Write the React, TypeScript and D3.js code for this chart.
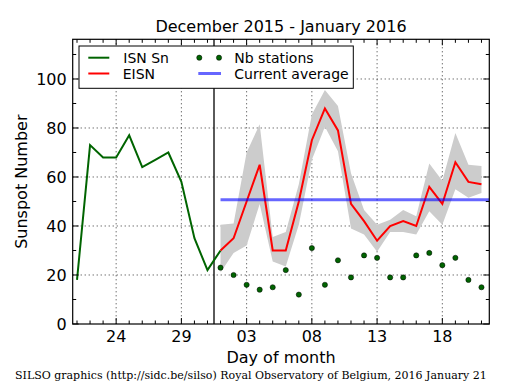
import React from 'react';
import * as d3 from 'd3';

const width = 515;
const height = 390;
const plot = { left: 72.7, right: 489.3, top: 39.3, bottom: 324 };

// day offsets relative to 2016-01-01
const isnDays = [-11, -10, -9, -8, -7, -6, -5, -4, -3, -2, -1, 0];
const isnValues = [18, 73, 68, 68, 77, 64, 67, 70, 58, 35, 22, 30];

const eisnDays = [0, 1, 2, 3, 4, 5, 6, 7, 8, 9, 10, 11, 12, 13, 14, 15, 16, 17, 18, 19, 20];
const eisnValues = [30, 35, 50, 65, 30, 30, 50, 75, 88, 79, 49, 42, 34, 40, 42, 40, 56, 49, 66, 58, 57];
const eisnUpper = [40.5, 41, 70, 81.5, 35.5, 37.5, 57, 85.5, 95.5, 89, 61.5, 46.5, 40.5, 42.5, 46.5, 44, 65.5, 58.5, 78, 65, 64.5];
const eisnLower = [21, 29, 32, 49, 25.5, 23.5, 40.5, 67, 80.5, 70.5, 39, 36.5, 29.5, 37.5, 37.5, 36.5, 46, 40.5, 55, 51.5, 53.5];
const stations = [23, 20, 16, 14, 15, 22, 12, 31, 16, 26, 19, 28, 27, 19, 19, 28, 29, 24, 27, 18, 15];
const currentAverage = 50.7;

const xTickDays = [-8, -3, 2, 7, 12, 17];
const xTickLabels = ['24', '29', '03', '08', '13', '18'];
const xMinorDays = [-11, -10, -9, -8, -7, -6, -5, -4, -3, -2, -1, 0, 1, 2, 3, 4, 5, 6, 7, 8, 9, 10, 11, 12, 13, 14, 15, 16, 17, 18, 19, 20];
const yTicks = [0, 20, 40, 60, 80, 100];
const yMinor = [10, 30, 50, 70, 90, 110];

const font = 'DejaVu Sans, sans-serif';

const App = () => {
  const x = d3.scaleLinear().domain([-11.33, 20.6]).range([plot.left, plot.right]);
  const y = d3.scaleLinear().domain([0, 116.2]).range([plot.bottom, plot.top]);

  const isnData = isnDays.map((d, i) => ({ d, v: isnValues[i] }));
  const eisnData = eisnDays.map((d, i) => ({ d, v: eisnValues[i], hi: eisnUpper[i], lo: eisnLower[i], n: stations[i] }));

  const line = d3.line<{ d: number; v: number }>().x(p => x(p.d)).y(p => y(p.v));
  const band = d3.area<{ d: number; hi: number; lo: number }>()
    .x(p => x(p.d))
    .y0(p => y(p.lo))
    .y1(p => y(p.hi));

  return (
    <svg width={width} height={height} style={{ position: 'absolute', left: 0, top: 0, background: '#fff' }}>
      <rect x={0} y={0} width={width} height={height} fill="#fff" />

      {/* title */}
      <text x={(plot.left + plot.right) / 2} y={31.5} textAnchor="middle" fontFamily={font} fontSize={16} fill="#000">
        December 2015 - January 2016
      </text>

      {/* grid */}
      {xTickDays.map(t => (
        <line key={'gx' + t} x1={x(t)} x2={x(t)} y1={plot.top} y2={plot.bottom} stroke="#000" strokeWidth={0.8} strokeDasharray="1,3" />
      ))}
      {yTicks.filter(t => t > 0).map(t => (
        <line key={'gy' + t} x1={plot.left} x2={plot.right} y1={y(t)} y2={y(t)} stroke="#000" strokeWidth={0.8} strokeDasharray="1,3" />
      ))}

      {/* uncertainty band */}
      <path d={band(eisnData) || ''} fill="#cccccc" stroke="none" />

      {/* boundary between months */}
      <line x1={x(-0.5)} x2={x(-0.5)} y1={plot.top} y2={plot.bottom} stroke="#000" strokeWidth={1.3} />

      {/* series */}
      <path d={line(isnData) || ''} fill="none" stroke="#006400" strokeWidth={2} />
      <path d={line(eisnData) || ''} fill="none" stroke="#ff0000" strokeWidth={2} />
      <line x1={x(0)} x2={plot.right} y1={y(currentAverage)} y2={y(currentAverage)} stroke="#0000ff" strokeOpacity={0.6} strokeWidth={3} />
      {eisnData.map(p => (
        <circle key={'n' + p.d} cx={x(p.d)} cy={y(p.n)} r={2.6} fill="#006400" stroke="#000" strokeWidth={0.5} />
      ))}

      {/* frame */}
      <rect x={plot.left} y={plot.top} width={plot.right - plot.left} height={plot.bottom - plot.top} fill="none" stroke="#000" strokeWidth={1.2} />

      {/* x ticks */}
      {xMinorDays.map(t => {
        const major = xTickDays.includes(t);
        const len = major ? 6 : 3.5;
        return (
          <g key={'tx' + t}>
            <line x1={x(t)} x2={x(t)} y1={plot.bottom} y2={plot.bottom - len} stroke="#000" strokeWidth={1} />
            <line x1={x(t)} x2={x(t)} y1={plot.top} y2={plot.top + len} stroke="#000" strokeWidth={1} />
          </g>
        );
      })}
      {xTickDays.map((t, i) => (
        <text key={'lx' + t} x={x(t)} y={342} textAnchor="middle" fontFamily={font} fontSize={16} fill="#000">
          {xTickLabels[i]}
        </text>
      ))}

      {/* y ticks */}
      {yTicks.concat(yMinor).map(t => {
        const len = yTicks.includes(t) ? 6 : 3.5;
        return (
          <g key={'ty' + t}>
            <line x1={plot.left} x2={plot.left + len} y1={y(t)} y2={y(t)} stroke="#000" strokeWidth={1} />
            <line x1={plot.right} x2={plot.right - len} y1={y(t)} y2={y(t)} stroke="#000" strokeWidth={1} />
          </g>
        );
      })}
      {yTicks.map(t => (
        <text key={'ly' + t} x={66.7} y={y(t)} dy="0.36em" textAnchor="end" fontFamily={font} fontSize={16} fill="#000">
          {t}
        </text>
      ))}

      {/* axis labels */}
      <text x={(plot.left + plot.right) / 2} y={363} textAnchor="middle" fontFamily={font} fontSize={16} fill="#000">
        Day of month
      </text>
      <text
        transform={`translate(27, ${(plot.top + plot.bottom) / 2}) rotate(-90)`}
        textAnchor="middle"
        fontFamily={font}
        fontSize={16}
        fill="#000"
      >
        Sunspot Number
      </text>

      {/* legend */}
      <rect x={79} y={46} width={274.3} height={42.3} fill="#fff" stroke="#000" strokeWidth={1} />
      <line x1={88.3} x2={109.3} y1={57.7} y2={57.7} stroke="#006400" strokeWidth={2} />
      <text x={123.3} y={57.7} dy="0.36em" fontFamily={font} fontSize={14} fill="#000">ISN Sn</text>
      <line x1={88.3} x2={109.3} y1={73.5} y2={73.5} stroke="#ff0000" strokeWidth={2} />
      <text x={122.7} y={73.5} dy="0.36em" fontFamily={font} fontSize={14} fill="#000">EISN</text>
      <circle cx={199.3} cy={57.7} r={2.6} fill="#006400" stroke="#000" strokeWidth={0.5} />
      <circle cx={219} cy={57.7} r={2.6} fill="#006400" stroke="#000" strokeWidth={0.5} />
      <text x={234.3} y={57.7} dy="0.36em" fontFamily={font} fontSize={14} fill="#000">Nb stations</text>
      <line x1={198.3} x2={221} y1={73.5} y2={73.5} stroke="#0000ff" strokeOpacity={0.6} strokeWidth={3} />
      <text x={234.3} y={73.5} dy="0.36em" fontFamily={font} fontSize={14} fill="#000">Current average</text>

      {/* footer */}
      <text x={15} y={379} fontFamily="DejaVu Serif, serif" fontSize={11} fill="#000">
        SILSO graphics (http://sidc.be/silso) Royal Observatory of Belgium, 2016 January 21
      </text>
    </svg>
  );
};

export default App;
